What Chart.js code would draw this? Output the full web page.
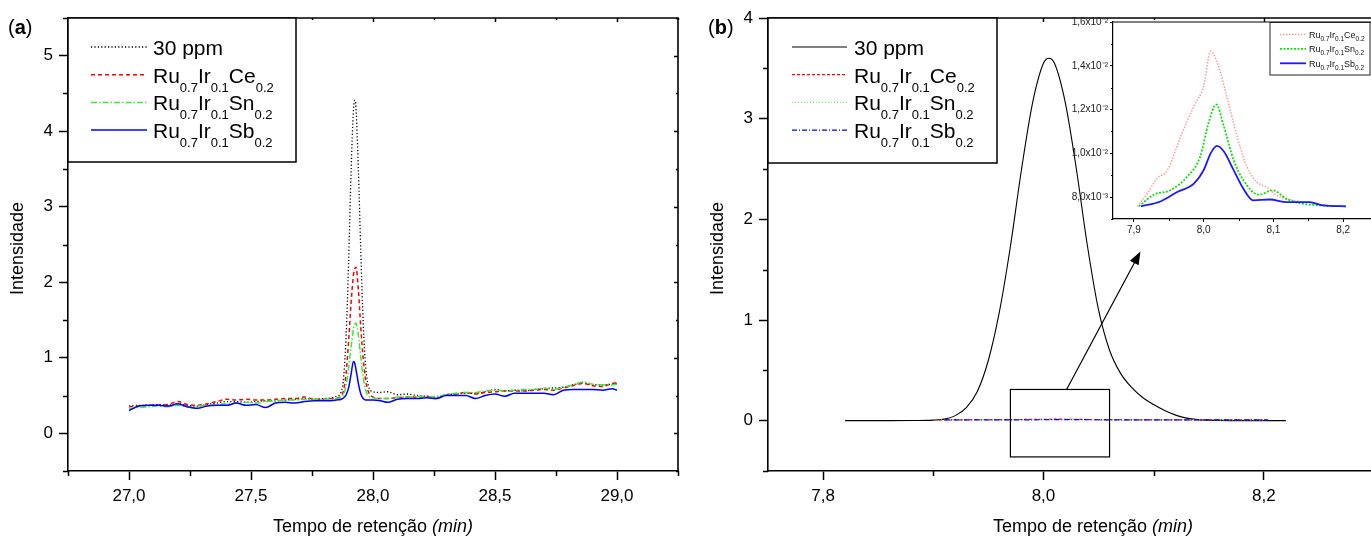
<!DOCTYPE html>
<html>
<head>
<meta charset="utf-8">
<script src="https://cdn.jsdelivr.net/npm/chart.js@4.4.1/dist/chart.umd.min.js"></script>
<style>
  html, body { margin: 0; padding: 0; background: #fff; }
  body { width: 1371px; height: 541px; overflow: hidden; position: relative; }
  canvas { position: absolute; top: 0; }
  #chartA { left: 0; }
  #chartB { left: 690px; }
  #inset { left: 1060px; }
</style>
</head>
<body>
<canvas id="chartA" width="690" height="541"></canvas>
<canvas id="chartB" width="690" height="541"></canvas>
<canvas id="inset" width="330" height="240"></canvas>
<script>
// ---------- panel (a): 27-29 min ----------
const tA = [27.00, 27.04, 27.08, 27.12, 27.16, 27.20, 27.24, 27.28, 27.32, 27.36, 27.40, 27.44, 27.48,
  27.52, 27.56, 27.60, 27.64, 27.68, 27.72, 27.76, 27.80, 27.83, 27.85, 27.87, 27.88, 27.89, 27.90,
  27.91, 27.92, 27.925, 27.93, 27.94, 27.95, 27.96, 27.97, 27.98, 28.00, 28.03, 28.06, 28.10, 28.14,
  28.18, 28.22, 28.26, 28.30, 28.34, 28.38, 28.42, 28.46, 28.50, 28.54, 28.58, 28.62, 28.66, 28.70,
  28.74, 28.78, 28.82, 28.86, 28.90, 28.94, 28.98, 29.00];
const a30ppm = [0.36, 0.37, 0.37, 0.38, 0.37, 0.39, 0.37, 0.36, 0.38, 0.40, 0.42, 0.42, 0.41,
  0.42, 0.43, 0.43, 0.44, 0.45, 0.46, 0.45, 0.46, 0.47, 0.49, 0.55, 0.76, 1.30, 2.26,
  3.44, 4.29, 4.41, 4.32, 3.50, 2.40, 1.45, 0.88, 0.64, 0.55, 0.54, 0.55, 0.51, 0.52,
  0.50, 0.49, 0.48, 0.51, 0.52, 0.53, 0.53, 0.55, 0.58, 0.56, 0.57, 0.56, 0.58, 0.59,
  0.60, 0.61, 0.64, 0.67, 0.64, 0.64, 0.65, 0.66];
const aCe = [0.35, 0.36, 0.37, 0.37, 0.38, 0.42, 0.38, 0.37, 0.39, 0.42, 0.45, 0.44, 0.45,
  0.44, 0.44, 0.45, 0.46, 0.46, 0.48, 0.45, 0.45, 0.46, 0.47, 0.49, 0.58, 0.80, 1.22,
  1.72, 2.10, 2.18, 2.20, 1.90, 1.40, 0.98, 0.70, 0.56, 0.48, 0.46, 0.46, 0.47, 0.48,
  0.48, 0.49, 0.46, 0.51, 0.52, 0.54, 0.52, 0.54, 0.55, 0.56, 0.56, 0.56, 0.57, 0.58,
  0.57, 0.60, 0.63, 0.66, 0.63, 0.62, 0.66, 0.67];
const aSn = [0.32, 0.34, 0.35, 0.36, 0.35, 0.37, 0.35, 0.36, 0.37, 0.38, 0.39, 0.40, 0.41,
  0.40, 0.42, 0.43, 0.44, 0.44, 0.45, 0.45, 0.45, 0.45, 0.46, 0.48, 0.52, 0.64, 0.86,
  1.14, 1.38, 1.44, 1.46, 1.30, 1.00, 0.74, 0.57, 0.50, 0.47, 0.46, 0.46, 0.48, 0.48,
  0.49, 0.48, 0.49, 0.51, 0.53, 0.54, 0.54, 0.56, 0.57, 0.56, 0.57, 0.58, 0.58, 0.60,
  0.58, 0.61, 0.64, 0.68, 0.65, 0.64, 0.64, 0.65];
const aSb = [0.30, 0.36, 0.37, 0.37, 0.36, 0.39, 0.35, 0.33, 0.36, 0.37, 0.37, 0.40, 0.37,
  0.38, 0.34, 0.40, 0.41, 0.40, 0.42, 0.43, 0.43, 0.43, 0.44, 0.45, 0.47, 0.51, 0.60,
  0.78, 0.95, 0.93, 0.85, 0.66, 0.52, 0.46, 0.44, 0.44, 0.44, 0.43, 0.41, 0.45, 0.46,
  0.46, 0.47, 0.46, 0.50, 0.50, 0.50, 0.46, 0.50, 0.52, 0.49, 0.53, 0.53, 0.53, 0.53,
  0.51, 0.57, 0.58, 0.58, 0.58, 0.57, 0.59, 0.57];

// ---------- panel (b): around 8 min ----------
const tB30 = [7.82, 7.86, 7.88, 7.90, 7.91, 7.92, 7.93, 7.94, 7.95, 7.96, 7.97, 7.98, 7.99, 8.00,
  8.005, 8.01, 8.02, 8.03, 8.04, 8.05, 8.06, 8.07, 8.08, 8.09, 8.10, 8.11, 8.12, 8.13, 8.14,
  8.16, 8.18, 8.22];
const b30ppm = [0, 0, 0.001, 0.005, 0.015, 0.05, 0.13, 0.29, 0.60, 1.08, 1.73, 2.49, 3.15, 3.55,
  3.60, 3.55, 3.15, 2.49, 1.73, 1.10, 0.70, 0.47, 0.33, 0.23, 0.16, 0.10, 0.055, 0.025, 0.01,
  0.002, 0, 0];
const tCe = [7.905, 7.920, 7.933, 7.948, 7.967, 7.986, 8.000, 8.010, 8.021, 8.033, 8.048, 8.062,
  8.076, 8.090, 8.105, 8.129, 8.157, 8.176, 8.202];
const bCe = [0.00758, 0.00820, 0.00885, 0.00923, 0.01077, 0.01215, 0.01308, 0.01466, 0.01400,
  0.01262, 0.01077, 0.00938, 0.00869, 0.00846, 0.00808, 0.00785, 0.00772, 0.00762, 0.00758];
const tSn = [7.907, 7.929, 7.952, 7.976, 7.995, 8.007, 8.018, 8.029, 8.043, 8.057, 8.079, 8.099,
  8.119, 8.138, 8.167, 8.203];
const bSn = [0.00758, 0.00812, 0.00831, 0.00892, 0.00985, 0.01138, 0.01223, 0.01123, 0.00969,
  0.00877, 0.00811, 0.00831, 0.00792, 0.00772, 0.00762, 0.00758];
const tSb = [7.910, 7.938, 7.962, 7.986, 8.000, 8.010, 8.019, 8.029, 8.043, 8.057, 8.071, 8.095,
  8.119, 8.152, 8.171, 8.204];
const bSb = [0.00758, 0.00780, 0.00823, 0.00862, 0.00923, 0.01000, 0.01034, 0.01008, 0.00923,
  0.00838, 0.00785, 0.00789, 0.00777, 0.00777, 0.00762, 0.00758];

// ---------- names and ticks ----------
const seriesNames = ['30 ppm', 'Ru0.7Ir0.1Ce0.2', 'Ru0.7Ir0.1Sn0.2', 'Ru0.7Ir0.1Sb0.2'];
const xTitle = ['Tempo de retenção ', '(min)'];
const yTitle = 'Intensidade';
const ticksAx = [26.75, 27.0, 27.25, 27.5, 27.75, 28.0, 28.25, 28.5, 28.75, 29.0, 29.25];
const ticksAy = [-0.5, 0, 0.5, 1, 1.5, 2, 2.5, 3, 3.5, 4, 4.5, 5, 5.5];
const ticksBx = [7.8, 7.9, 8.0, 8.1, 8.2, 8.3];
const ticksBy = [-0.5, 0, 0.5, 1, 1.5, 2, 2.5, 3, 3.5, 4];
const ticksIx = [7.9, 7.95, 8.0, 8.05, 8.1, 8.15, 8.2];
const ticksIy = [0.007, 0.008, 0.009, 0.010, 0.011, 0.012, 0.013, 0.014, 0.015, 0.016];
// zoomed region marked in (b) and the arrow pointing to the inset
const zoomBox = { x0: 7.97, x1: 8.06, y0: -0.36, y1: 0.31 };
const arrow = { x0: 8.021, y0: 0.31, x1: 8.088, y1: 1.68 };

const FONT = '"Liberation Sans", Arial, Helvetica, sans-serif';
Chart.defaults.font.family = FONT;
Chart.defaults.color = '#000';

const pts = (xs, ys) => xs.map((x, i) => ({ x: x, y: ys[i] }));
const comma = (v, d) => v.toFixed(d).replace('.', ',');
const near = (a, b) => Math.abs(a - b) < 1e-6;

function subParts(name) {
  return name.split(/(\d+\.\d+)/).filter(Boolean)
    .map(s => ({ t: s, sub: /^\d+\.\d+$/.test(s) }));
}

function line(ctx, x0, y0, x1, y1) {
  ctx.beginPath(); ctx.moveTo(x0, y0); ctx.lineTo(x1, y1); ctx.stroke();
}

// frame: top/right border, minor ticks outward, small inward ticks on top/right
const framePlugin = {
  id: 'frame',
  afterDraw(chart, args, o) {
    const { ctx, chartArea: a, scales: { x, y } } = chart;
    ctx.save();
    ctx.strokeStyle = '#000';
    ctx.lineWidth = o.width;
    ctx.beginPath();
    ctx.moveTo(a.left, a.top); ctx.lineTo(a.right, a.top); ctx.lineTo(a.right, a.bottom);
    ctx.stroke();
    ctx.lineWidth = o.tickWidth;
    x.ticks.forEach(t => {
      const px = Math.round(x.getPixelForValue(t.value)) + 0.5;
      const major = o.majorX(t.value);
      if (!major) line(ctx, px, a.bottom, px, a.bottom + o.minorLen);
      if (o.inMajor) line(ctx, px, a.top, px, a.top + (major ? o.inMajor : o.inMinor));
    });
    y.ticks.forEach(t => {
      const py = Math.round(y.getPixelForValue(t.value)) + 0.5;
      const major = o.majorY(t.value);
      if (!major) line(ctx, a.left, py, a.left - o.minorLen, py);
      if (o.inMajor && o.rightTicks) line(ctx, a.right, py, a.right - (major ? o.inMajor : o.inMinor), py);
    });
    ctx.restore();
  }
};

// axis titles and panel letter
const titlesPlugin = {
  id: 'titles',
  afterDraw(chart, args, o) {
    if (!o.show) return;
    const { ctx, chartArea: a } = chart;
    ctx.save();
    ctx.fillStyle = '#000';
    ctx.textBaseline = 'middle';
    // x title with italic unit
    ctx.font = '18px ' + FONT;
    const w0 = ctx.measureText(xTitle[0]).width;
    ctx.font = 'italic 18px ' + FONT;
    const w1 = ctx.measureText(xTitle[1]).width;
    let tx = (a.left + a.right) / 2 - (w0 + w1) / 2 + o.xShift;
    ctx.font = '18px ' + FONT;
    ctx.textAlign = 'left';
    ctx.fillText(xTitle[0], tx, o.xTitleY);
    ctx.font = 'italic 18px ' + FONT;
    ctx.fillText(xTitle[1], tx + w0, o.xTitleY);
    // y title
    ctx.save();
    ctx.translate(a.left - 50, (a.top + a.bottom) / 2 + 4);
    ctx.rotate(-Math.PI / 2);
    ctx.textAlign = 'center';
    ctx.font = '18px ' + FONT;
    ctx.fillText(yTitle, 0, 0);
    ctx.restore();
    // panel letter "(a)" with bold letter
    let px = a.left - 60;
    ctx.textAlign = 'left';
    [['(', ''], [o.panel, 'bold '], [')', '']].forEach(([s, w]) => {
      ctx.font = w + '20px ' + FONT;
      ctx.fillText(s, px, 28);
      px += ctx.measureText(s).width;
    });
    ctx.restore();
  }
};

// legend with subscripted formulas
const subLegendPlugin = {
  id: 'subLegend',
  afterDraw(chart, args, L) {
    if (!L.rows) return;
    const { ctx, chartArea: a } = chart;
    const x = (L.x !== undefined ? L.x : a.left), y = (L.y !== undefined ? L.y : a.top);
    ctx.save();
    ctx.fillStyle = '#fff';
    ctx.fillRect(x, y, L.w, L.h);
    ctx.strokeStyle = L.borderColor;
    ctx.lineWidth = L.border;
    ctx.strokeRect(x, y, L.w, L.h);
    L.rows.forEach((r, i) => {
      const base = y + L.first + i * L.gap;
      ctx.strokeStyle = r.color;
      ctx.lineWidth = r.width;
      ctx.setLineDash(r.dash);
      line(ctx, x + L.s0, base + L.sampleOff, x + L.s1, base + L.sampleOff);
      ctx.setLineDash([]);
      ctx.fillStyle = L.textColor;
      ctx.textBaseline = 'alphabetic';
      ctx.textAlign = 'left';
      let tx = x + L.tx;
      subParts(r.label).forEach(p => {
        ctx.font = (p.sub ? L.subSize : L.size) + 'px ' + FONT;
        ctx.fillText(p.t, tx, base + (p.sub ? L.subDrop : 0));
        tx += ctx.measureText(p.t).width;
      });
    });
    ctx.restore();
  }
};

// rectangle around the zoomed part and arrow to the inset
const zoomMarkPlugin = {
  id: 'zoomMark',
  afterDatasetsDraw(chart, args, o) {
    if (!o.show) return;
    const { ctx, scales: { x, y } } = chart;
    ctx.save();
    ctx.strokeStyle = '#000';
    ctx.fillStyle = '#000';
    ctx.lineWidth = 1.2;
    const bx0 = x.getPixelForValue(zoomBox.x0), bx1 = x.getPixelForValue(zoomBox.x1);
    const by0 = y.getPixelForValue(zoomBox.y0), by1 = y.getPixelForValue(zoomBox.y1);
    ctx.strokeRect(bx0, by1, bx1 - bx0, by0 - by1);
    const ax0 = x.getPixelForValue(arrow.x0), ay0 = y.getPixelForValue(arrow.y0);
    const ax1 = x.getPixelForValue(arrow.x1), ay1 = y.getPixelForValue(arrow.y1);
    const ang = Math.atan2(ay1 - ay0, ax1 - ax0);
    const hl = 13, hw = 5;
    line(ctx, ax0, ay0, ax1 - Math.cos(ang) * hl * 0.8, ay1 - Math.sin(ang) * hl * 0.8);
    ctx.beginPath();
    ctx.moveTo(ax1, ay1);
    ctx.lineTo(ax1 - Math.cos(ang) * hl - Math.sin(ang) * hw, ay1 - Math.sin(ang) * hl + Math.cos(ang) * hw);
    ctx.lineTo(ax1 - Math.cos(ang) * hl + Math.sin(ang) * hw, ay1 - Math.sin(ang) * hl - Math.cos(ang) * hw);
    ctx.closePath();
    ctx.fill();
    ctx.restore();
  }
};

Chart.register(framePlugin, titlesPlugin, subLegendPlugin, zoomMarkPlugin);

function series(label, xs, ys, color, dash, width, order) {
  return {
    label: label, data: pts(xs, ys), borderColor: color, borderDash: dash, borderWidth: width,
    pointRadius: 0, fill: false, cubicInterpolationMode: 'monotone', order: order
  };
}

function axis(min, max, values, fmt, isMajor, fit) {
  return {
    type: 'linear', min: min, max: max,
    afterBuildTicks: s => { s.ticks = values.map(v => ({ value: v })); },
    afterFit: fit,
    ticks: {
      font: { size: 17 }, color: '#000', padding: 6, autoSkip: false, maxRotation: 0,
      callback: v => isMajor(v) ? fmt(v) : ''
    },
    grid: {
      drawOnChartArea: false, drawTicks: true, tickLength: 9, tickWidth: 1.5,
      tickColor: c => (c.tick && isMajor(c.tick.value)) ? '#000' : 'rgba(0,0,0,0)'
    },
    border: { display: true, color: '#000', width: 1.6 }
  };
}

const halfMajor = v => near(v * 2, Math.round(v * 2));
const intMajor = v => near(v, Math.round(v));
const evenTenth = v => near(v * 10, Math.round(v * 10)) && Math.round(v * 10) % 2 === 0;

const baseOpts = {
  responsive: false, animation: false, events: [],
  plugins: { legend: { display: false }, tooltip: { enabled: false } }
};

// ---------- chart (a) ----------
new Chart(document.getElementById('chartA'), {
  type: 'line',
  data: {
    datasets: [
      series(seriesNames[0], tA, a30ppm, '#000000', [1.2, 2.2], 1.3, 4),
      series(seriesNames[1], tA, aCe, '#ff0000', [4, 3], 1.5, 3),
      series(seriesNames[2], tA, aSn, '#33ee33', [6, 2, 1.5, 2], 1.5, 2),
      series(seriesNames[3], tA, aSb, '#0000ff', [], 1.5, 1)
    ]
  },
  options: Object.assign({}, baseOpts, {
    layout: { padding: { left: 0, right: 12, top: 18, bottom: 0 } },
    scales: {
      x: axis(26.75, 29.25, ticksAx, v => comma(v, 1), halfMajor, s => { s.height = 70; }),
      y: axis(-0.5, 5.5, ticksAy, v => String(Math.round(v)), intMajor, s => { s.width = 68; })
    },
    plugins: Object.assign({}, baseOpts.plugins, {
      frame: { width: 1.6, tickWidth: 1.5, minorLen: 5, inMajor: 4, inMinor: 2, rightTicks: true, majorX: halfMajor, majorY: intMajor },
      titles: { show: true, panel: 'a', xTitleY: 527, xShift: 0 },
      subLegend: {
        w: 228, h: 144, border: 1.5, borderColor: '#000', textColor: '#000',
        first: 37, gap: 27.7, sampleOff: -8, s0: 23, s1: 79, tx: 85, size: 21, subSize: 13, subDrop: 9,
        rows: [
          { label: seriesNames[0], color: '#000', dash: [1.2, 2.2], width: 1.3 },
          { label: seriesNames[1], color: '#ff0000', dash: [4, 3], width: 1.5 },
          { label: seriesNames[2], color: '#33ee33', dash: [6, 2, 1.5, 2], width: 1.5 },
          { label: seriesNames[3], color: '#0000ff', dash: [], width: 1.5 }
        ]
      },
      zoomMark: { show: false }
    })
  })
});

// ---------- chart (b) ----------
new Chart(document.getElementById('chartB'), {
  type: 'line',
  data: {
    datasets: [
      series(seriesNames[0], tB30, b30ppm, '#000000', [], 1.1, 4),
      series(seriesNames[1], tCe, bCe, '#ff0000', [3, 2], 1.2, 3),
      series(seriesNames[2], tSn, bSn, '#66ee66', [1, 2], 1.2, 2),
      series(seriesNames[3], tSb, bSb, '#0000ff', [5, 2, 1, 2], 1.2, 1)
    ]
  },
  options: Object.assign({}, baseOpts, {
    layout: { padding: { left: 10, right: 3, top: 18, bottom: 0 } },
    scales: {
      x: axis(7.75, 8.3, ticksBx, v => comma(v, 1), evenTenth, s => { s.height = 70; }),
      y: axis(-0.5, 4, ticksBy, v => String(Math.round(v)), intMajor, s => { s.width = 68; })
    },
    plugins: Object.assign({}, baseOpts.plugins, {
      frame: { width: 1.6, tickWidth: 1.5, minorLen: 5, inMajor: 4, inMinor: 2, rightTicks: false, majorX: evenTenth, majorY: intMajor },
      titles: { show: true, panel: 'b', xTitleY: 527, xShift: 22 },
      subLegend: {
        w: 229, h: 145, border: 1.5, borderColor: '#000', textColor: '#000',
        first: 37, gap: 27.7, sampleOff: -8, s0: 24, s1: 79, tx: 86, size: 21, subSize: 13, subDrop: 9,
        rows: [
          { label: seriesNames[0], color: '#000', dash: [], width: 1.1 },
          { label: seriesNames[1], color: '#ff0000', dash: [3, 2], width: 1.2 },
          { label: seriesNames[2], color: '#66ee66', dash: [1, 2], width: 1.2 },
          { label: seriesNames[3], color: '#0000ff', dash: [5, 2, 1, 2], width: 1.2 }
        ]
      },
      zoomMark: { show: true }
    })
  })
});

// ---------- inset ----------
const insetYLabel = v => {
  const e = v < 0.0099 ? 3 : 2;
  const m = v * Math.pow(10, e);
  return comma(m, 1) + 'x10' + (e === 3 ? '\u207B\u00B3' : '\u207B\u00B2');
};
const insetYMajor = v => { const k = Math.round(v * 1000); return near(v * 1000, k) && k % 2 === 0; };
const insetXMajor = v => near(v * 10, Math.round(v * 10));

function insetAxis(min, max, values, fmt, isMajor, fit, pad) {
  const ax = axis(min, max, values, fmt, isMajor, fit);
  ax.ticks.font = { size: 10 };
  ax.ticks.color = '#222';
  ax.ticks.padding = pad;
  ax.grid.tickLength = 3;
  ax.grid.tickWidth = 1;
  ax.border.width = 1.2;
  return ax;
}

new Chart(document.getElementById('inset'), {
  type: 'line',
  data: {
    datasets: [
      series(seriesNames[1], tCe, bCe, '#ff9a9a', [1.5, 1.5], 1.5, 3),
      series(seriesNames[2], tSn, bSn, '#11dd11', [2, 1.5], 1.8, 2),
      series(seriesNames[3], tSb, bSb, '#1a1aff', [], 1.8, 1)
    ]
  },
  options: Object.assign({}, baseOpts, {
    layout: { padding: { left: 0, right: 12, top: 22, bottom: 0 } },
    scales: {
      x: insetAxis(7.87, 8.25, ticksIx, v => comma(v, 1), insetXMajor, s => { s.height = 21; }, 2),
      y: insetAxis(0.007, 0.016, ticksIy, insetYLabel, insetYMajor, s => { s.width = 53; }, 2)
    },
    plugins: Object.assign({}, baseOpts.plugins, {
      frame: { width: 1.2, tickWidth: 1, minorLen: 2, inMajor: 0, inMinor: 0, rightTicks: false, majorX: insetXMajor, majorY: insetYMajor },
      titles: { show: false },
      subLegend: {
        x: 210, y: 22.5, w: 100, h: 52.5, border: 1, borderColor: '#222', textColor: '#111',
        first: 15.5, gap: 14.4, sampleOff: -3.5, s0: 10, s1: 36, tx: 39, size: 9, subSize: 6.5, subDrop: 3,
        rows: [
          { label: seriesNames[1], color: '#ff9a9a', dash: [1.5, 1.5], width: 1.5 },
          { label: seriesNames[2], color: '#11dd11', dash: [2, 1.5], width: 1.8 },
          { label: seriesNames[3], color: '#1a1aff', dash: [], width: 1.8 }
        ]
      },
      zoomMark: { show: false }
    })
  })
});
</script>
</body>
</html>
